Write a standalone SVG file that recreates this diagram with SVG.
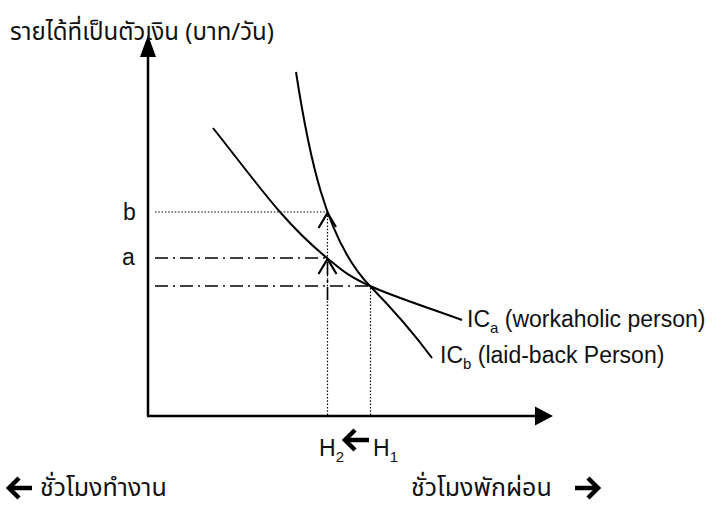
<svg xmlns="http://www.w3.org/2000/svg" width="712" height="508" viewBox="0 0 712 508">
<style>
.axis{stroke:#000;stroke-width:2.5;fill:none}
.curve{stroke:#000;stroke-width:2;fill:none}
.dot{stroke:#000;stroke-width:1.2;stroke-dasharray:1.5 1.8;fill:none}
.dd{stroke:#000;stroke-width:1.6;stroke-dasharray:13 5 2 5;fill:none}
.chev{stroke:#000;stroke-width:2.2;fill:none}
.th{font-family:"Noto Sans Thai","Noto Sans","DejaVu Sans",sans-serif;fill:#111}
.lt{font-family:"Liberation Sans",Arial,sans-serif;font-size:23px;fill:#111}
.sub{font-size:15px}
.big{stroke:#000;stroke-width:4.5;fill:none;stroke-linecap:butt;stroke-linejoin:miter}
</style>
<rect width="712" height="508" fill="#fff"/>
<g id="axes">
<line class="axis" x1="148" y1="416" x2="148" y2="55"/>
<path d="M140,57 L148,35 L156,57 Z" fill="#000"/>
<line class="axis" x1="147" y1="416" x2="537" y2="416"/>
<path d="M535,406.5 L553,416 L535,425.5 Z" fill="#000"/>
</g>
<g id="title"><text class="th" x="10" y="40" font-size="24">รายได้ที่เป็นตัวเงิน (บาท/วัน)</text></g>
<g id="label-b"><text class="lt" x="123" y="220" font-size="24">b</text></g>
<g id="label-a"><text class="lt" x="122" y="265" font-size="24">a</text></g>
<g id="connectors">
<line class="dot" x1="155" y1="212" x2="327" y2="212"/>
<line class="dd" x1="155" y1="258" x2="327" y2="258"/>
<line class="dd" x1="155" y1="286" x2="370" y2="286"/>
<line class="dot" x1="327.5" y1="415" x2="327.5" y2="213"/>
<line class="dd" x1="327.5" y1="262" x2="327.5" y2="306"/>
<line class="dot" x1="370.5" y1="415" x2="370.5" y2="287"/>
<polyline class="chev" points="318.5,228 327.5,213 336,227"/>
<polyline class="chev" points="318.5,274 327.5,259 336.5,274"/>
</g>
<g id="ICa">
<path class="curve" d="M213,128 C235.3,156 261,190.3 280,212 C299,233.7 312,245.7 327,258 C342,270.3 347.5,275.7 370,286 C392.5,296.3 431.3,308.7 462,320"/>
<text class="lt" x="467" y="327">IC<tspan class="sub" dy="6">a</tspan><tspan dy="-6"> (workaholic person)</tspan></text>
</g>
<g id="ICb">
<path class="curve" d="M296,72 C308,150 325,240 370,286 C395,311.5 415,335 432,358"/>
<text class="lt" x="440" y="363">IC<tspan class="sub" dy="6">b</tspan><tspan dy="-6"> (laid-back Person)</tspan></text>
</g>
<g id="H-labels">
<text class="lt" x="319" y="456">H<tspan class="sub" dy="6">2</tspan></text>
<polyline class="big" points="355,430 345,440 355,450"/>
<line class="big" x1="345" y1="440" x2="369" y2="440"/>
<text class="lt" x="373" y="456">H<tspan class="sub" dy="6">1</tspan></text>
</g>
<g id="bottom-left">
<polyline class="big" points="19,478 9,488 19,498"/>
<line class="big" x1="9" y1="488" x2="32" y2="488"/>
<text class="th" x="40" y="496" font-size="25">ชั่วโมงทำงาน</text>
</g>
<g id="bottom-right">
<text class="th" x="411" y="496" font-size="25">ชั่วโมงพักผ่อน</text>
<polyline class="big" points="588,478 598,488 588,498"/>
<line class="big" x1="575" y1="488" x2="598" y2="488"/>
</g>
</svg>
